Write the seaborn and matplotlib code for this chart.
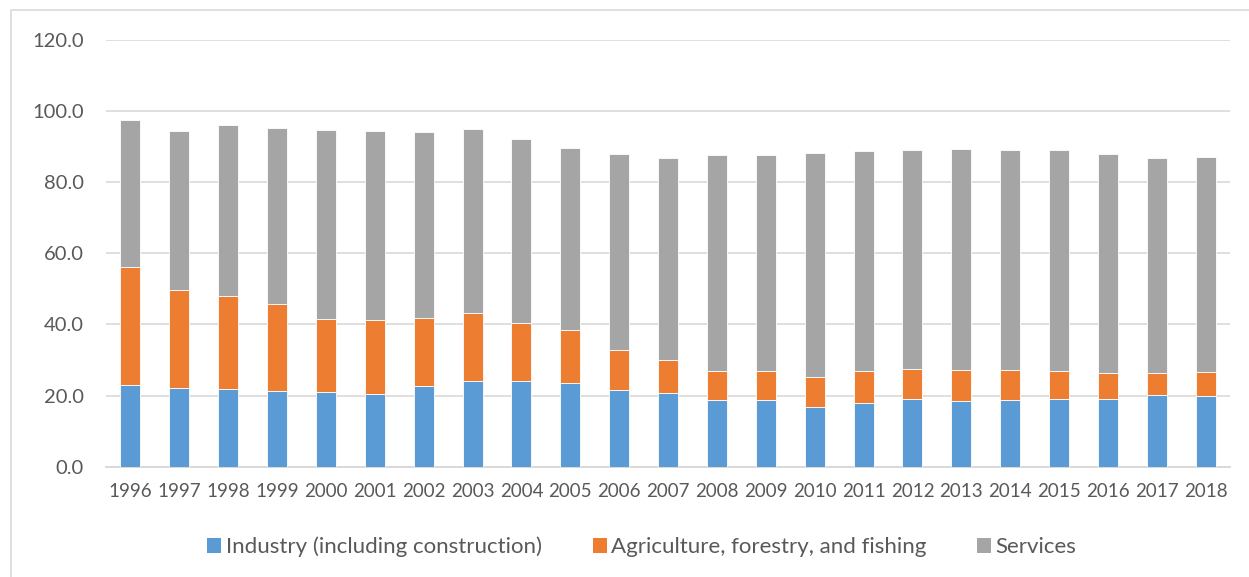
import matplotlib
matplotlib.use("Agg")
import matplotlib.pyplot as plt
from matplotlib.patches import Patch, Rectangle
import numpy as np
import pandas as pd
import seaborn as sns

years = [str(y) for y in range(1996, 2019)]
industry = [22.9, 22.2, 21.8, 21.2, 20.9, 20.4, 22.7, 24.0, 24.1, 23.6, 21.7, 20.8,
            18.8, 18.8, 16.7, 17.9, 19.0, 18.5, 18.7, 19.0, 19.1, 20.2, 20.0]
agriculture = [33.3, 27.5, 26.1, 24.6, 20.6, 20.9, 19.2, 19.3, 16.4, 14.9, 11.2, 9.3,
               8.2, 8.2, 8.4, 9.1, 8.4, 8.6, 8.5, 7.9, 7.3, 6.1, 6.6]
services = [41.3, 44.8, 48.1, 49.4, 53.3, 53.0, 52.3, 51.6, 51.7, 51.1, 55.1, 56.8,
            60.7, 60.7, 63.2, 61.9, 61.7, 62.2, 61.8, 62.2, 61.6, 60.4, 60.4]
series_names = ["Industry (including construction)", "Agriculture, forestry, and fishing", "Services"]
colors = ["#5B9BD5", "#ED7D31", "#A5A5A5"]

df = pd.DataFrame({"year": years, series_names[0]: industry,
                   series_names[1]: agriculture, series_names[2]: services})

sns.set_theme(style="white")
plt.rcParams["font.family"] = ["Lato", "DejaVu Sans"]

fig = plt.figure(figsize=(12.49, 5.77), dpi=100)
ax = fig.add_axes([0.0849, 0.1912, 0.9000, 0.7395])

# outer chart border
fig.patches.append(Rectangle((11 / 1249, -0.01), 1.0, 1 - 10 / 577 + 0.01,
                             transform=fig.transFigure, fill=False,
                             edgecolor="#d9d9d9", linewidth=1.2, zorder=0))

bottom = np.zeros(len(years))
for name, color in zip(series_names, colors):
    sns.barplot(data=df, x="year", y=name, color=color, width=0.41, bottom=bottom,
                edgecolor="white", linewidth=0.6, saturation=1, ax=ax, zorder=3)
    bottom = bottom + df[name].to_numpy()

ax.set_ylim(0, 120)
ax.set_xlim(-0.5, len(years) - 0.5)
ax.set_yticks(np.arange(0, 121, 20))
ax.set_yticklabels([f"{v:.1f}" for v in np.arange(0, 121, 20)])
ax.set_xlabel("")
ax.set_ylabel("")
ax.yaxis.grid(True, color="#d9d9d9", linewidth=1.2, zorder=0)
ax.set_axisbelow(True)
for side in ["top", "right", "left"]:
    ax.spines[side].set_visible(False)
ax.spines["bottom"].set_color("#d9d9d9")
ax.spines["bottom"].set_linewidth(1.4)
ax.tick_params(axis="x", length=0, pad=12, labelsize=13.5, labelcolor="#595959")
ax.tick_params(axis="y", length=0, pad=16, labelsize=14.5, labelcolor="#595959")

handles = [Patch(facecolor=c, edgecolor="none") for c in colors]
fig.legend(handles, series_names, loc="center", bbox_to_anchor=(0.514, 0.052),
           ncol=3, frameon=False, fontsize=16, labelcolor="#595959",
           handlelength=0.62, handleheight=0.62, handletextpad=0.2, columnspacing=2.3)

fig.savefig("out.png", dpi=100, facecolor="white")
